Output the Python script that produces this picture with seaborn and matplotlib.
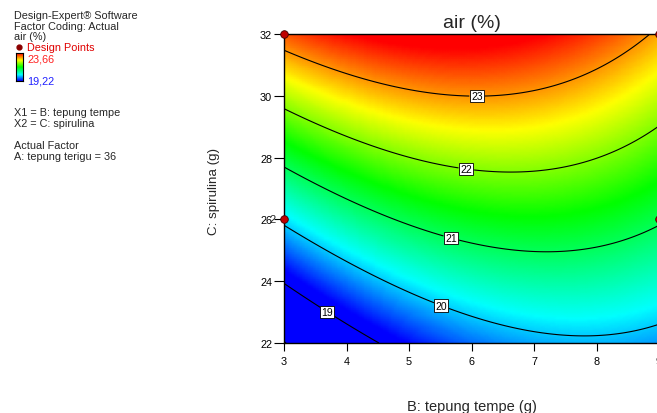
import numpy as np
import pandas as pd
import matplotlib
matplotlib.use("Agg")
import matplotlib.pyplot as plt
from matplotlib.colors import LinearSegmentedColormap
from matplotlib.lines import Line2D
import seaborn as sns

sns.set_style("white")
plt.rcParams['font.family'] = ['Liberation Sans', 'DejaVu Sans']

# ---------------- data ----------------
title = "air (%)"
x_label = "B: tepung tempe (g)"
y_label = "C: spirulina (g)"
x_ticks = [3, 4, 5, 6, 7, 8, 9]
y_ticks = [22, 24, 26, 28, 30, 32]
x_range = [3, 9]
y_range = [22, 32]

ridge_c_center = 26.0
ridge_g0 = 21.40      # response on ridge at C = 26
ridge_g1 = 0.3858     # linear C effect along ridge
ridge_g2 = 0.00383    # quadratic C effect along ridge
ridge_b0 = 12.728     # ridge position B* = b0 + b1*C
ridge_b1 = -0.2215
curv_b = -0.0825      # quadratic B curvature

contour_levels = [18, 19, 20, 21, 22, 23]
label_b = [3.75, 5.55, 5.70, 5.93, 6.09]
label_c = [23.20, 23.39, 25.60, 27.83, 30.16]

design_b = [3, 9, 3, 9]
design_c = [32, 32, 26, 26]
replicate_b = [3]
replicate_c = [26]
replicate_txt = ["2"]

color_min = 19.22
color_max = 23.66

left_texts = ["Design-Expert\u00ae Software", "Factor Coding: Actual", "air (%)"]
left_texts_y = [16, 27, 37]
lower_texts = ["X1 = B: tepung tempe", "X2 = C: spirulina", "Actual Factor", "A: tepung terigu = 36"]
lower_texts_y = [113, 124, 146, 157]

# ---------------- figure ----------------
W, H = 657, 414
fig = plt.figure(figsize=(W / 100, H / 100), dpi=100)
ax_l, ax_r, ax_t, ax_b = 284, 659, 35, 344
ax = fig.add_axes([ax_l / W, 1 - ax_b / H, (ax_r - ax_l) / W, (ax_b - ax_t) / H])

cmap = LinearSegmentedColormap.from_list(
    "de", [(0.0, "#0000ff"), (0.22, "#00ffff"), (0.5, "#00ff00"),
           (0.75, "#ffff00"), (1.0, "#ff0000")])

B = np.linspace(x_range[0], x_range[1], 140)
C = np.linspace(y_range[0], y_range[1], 140)
BB, CC = np.meshgrid(B, C)
t = CC - ridge_c_center
Z = ridge_g0 + ridge_g1 * t + ridge_g2 * t ** 2 + curv_b * (BB - (ridge_b0 + ridge_b1 * CC)) ** 2

ax.set_xlim(*x_range)
ax.set_ylim(*y_range)
ax.pcolormesh(BB, CC, Z, cmap=cmap, vmin=color_min, vmax=color_max, shading="gouraud")
cs = ax.contour(BB, CC, Z, levels=contour_levels, colors="black", linewidths=0.8)
lbl = ax.clabel(cs, manual=list(zip(label_b, label_c)),
                fmt="%d", fontsize=7.5, inline=True, inline_spacing=2)
for tx in lbl:
    tx.set_bbox(dict(facecolor="white", edgecolor="black", pad=0.9, linewidth=0.6))
    tx.set_rotation(0)

df = pd.DataFrame({"B": design_b, "C": design_c})
sns.scatterplot(data=df, x="B", y="C", ax=ax, color="#c00000", edgecolor="#400000",
                s=30, linewidth=0.6, zorder=5, clip_on=False, legend=False)
for b, c, s in zip(replicate_b, replicate_c, replicate_txt):
    ax.annotate(s, (b, c), xytext=(-8, 0), textcoords="offset points",
                ha="center", va="center", fontsize=8, annotation_clip=False)

ax.set_xlim(*x_range)
ax.set_ylim(*y_range)
ax.set_xticks(x_ticks)
ax.set_yticks(y_ticks)
ax.tick_params(axis="both", direction="out", labelsize=7.8, width=0.8, colors="black")
ax.tick_params(axis="y", length=7, pad=1.5, left=True)
ax.tick_params(axis="x", length=6, pad=3.5, bottom=True)
for sp in ax.spines.values():
    sp.set_color("black")
    sp.set_linewidth(1.0)

ax.set_title(title, fontsize=14, pad=5)
ax.set_xlabel(x_label, fontsize=10.5)
ax.set_ylabel(y_label, fontsize=9.6)
ax.xaxis.set_label_coords(0.5, (ax_b - 407) / (ax_b - ax_t))
ax.xaxis.label.set_va("center")
ax.yaxis.set_label_coords((214 - ax_l) / (ax_r - ax_l), (ax_b - 191) / (ax_b - ax_t))
ax.yaxis.label.set_va("center")
ax.yaxis.label.set_ha("center")

# ---------------- left info panel ----------------
fs_left = 7.8
for s, y in zip(left_texts, left_texts_y):
    fig.text(14 / W, 1 - y / H, s, fontsize=fs_left, va="center", ha="left")
fig.add_artist(Line2D([19 / W], [1 - 48 / H], marker="o", markersize=3.5,
                      color="#8b0000", transform=fig.transFigure))
fig.text(27 / W, 1 - 48 / H, "Design Points", fontsize=fs_left, color="#e00000", va="center")
fig.text(27 / W, 1 - 59 / H, f"{color_max:.2f}".replace(".", ","), fontsize=fs_left,
         color="#ff2020", va="center")
fig.text(27 / W, 1 - 81 / H, f"{color_min:.2f}".replace(".", ","), fontsize=fs_left,
         color="#2020ff", va="center")
cax = fig.add_axes([16 / W, 1 - 82 / H, 7 / W, 28 / H])
cax.imshow(np.linspace(1, 0, 64).reshape(-1, 1), cmap=cmap, aspect="auto")
cax.set_xticks([])
cax.set_yticks([])
for sp in cax.spines.values():
    sp.set_color("black")
    sp.set_linewidth(0.8)
for s, y in zip(lower_texts, lower_texts_y):
    fig.text(14 / W, 1 - y / H, s, fontsize=fs_left, va="center", ha="left")

fig.savefig("out.png", dpi=100)
